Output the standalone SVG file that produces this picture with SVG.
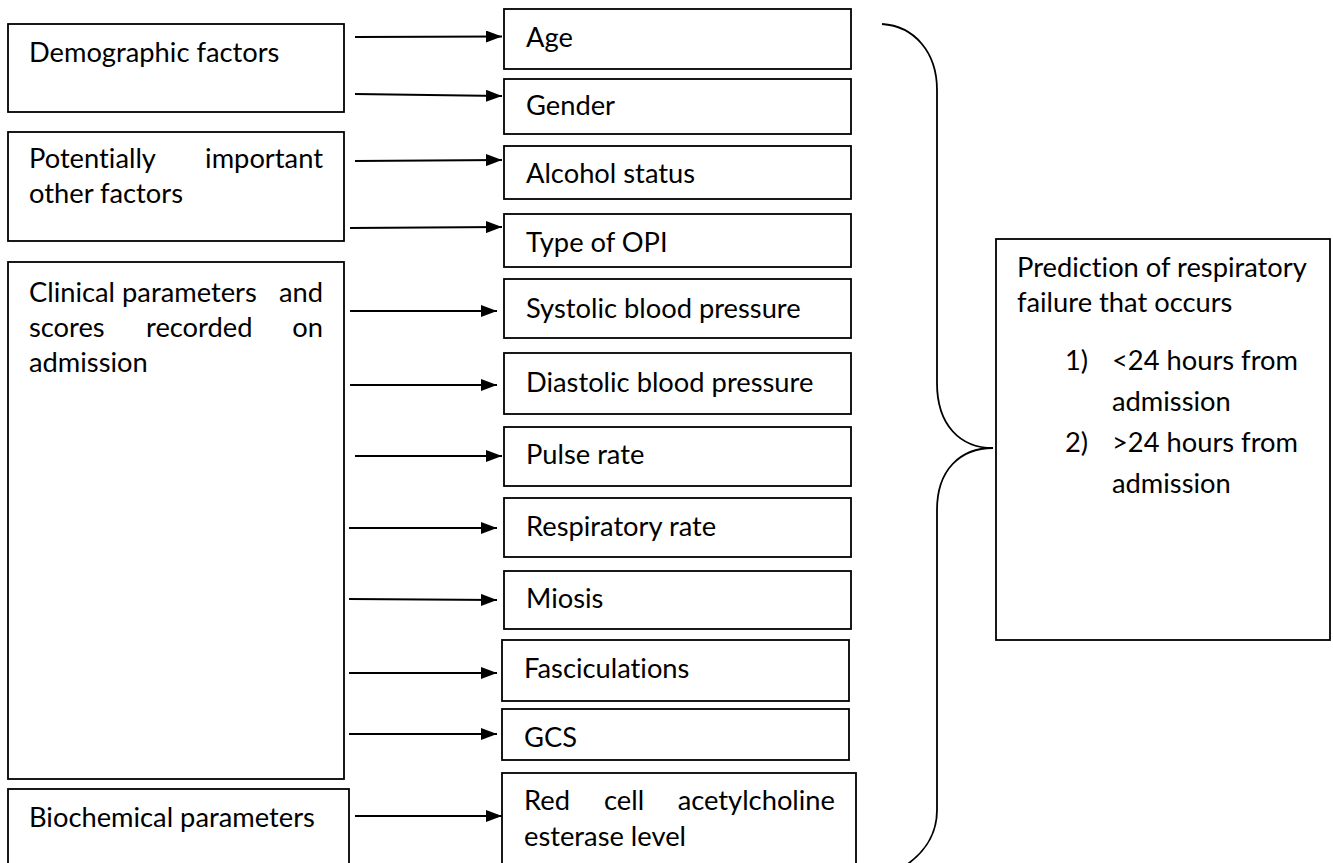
<svg xmlns="http://www.w3.org/2000/svg" width="1333" height="863" viewBox="0 0 1333 863">
<style>
.box{fill:#fff;stroke:#000;stroke-width:1.8}
.t{font-family:Lato,"Open Sans","Liberation Sans",sans-serif;font-size:27.3px;fill:#000;font-variant-ligatures:none;font-feature-settings:"liga" 0,"dlig" 0}
.c{stroke:#000;stroke-width:1.8;fill:none}
</style>
<defs>
<marker id="ah" markerUnits="userSpaceOnUse" markerWidth="16" markerHeight="12" refX="16" refY="6" orient="auto"><path d="M0,0 L16,6 L0,12 z" fill="#000"/></marker>
</defs>
<rect width="1333" height="863" fill="#fff"/>
<g id="demographic"><rect class="box" x="8" y="24" width="336" height="88"/><text class="t" x="29" y="62">Demographic factors</text></g>
<g id="potential"><rect class="box" x="8" y="132" width="336" height="109"/><text class="t" x="29" y="168">Potentially</text><text class="t" x="323" y="168" text-anchor="end">important</text><text class="t" x="29" y="203">other factors</text></g>
<g id="clinical"><rect class="box" x="8" y="262" width="336" height="517"/><text class="t" x="29" y="302">Clinical parameters</text><text class="t" x="323" y="302" text-anchor="end">and</text><text class="t" x="29" y="337">scores</text><text class="t" x="146" y="337">recorded</text><text class="t" x="323" y="337" text-anchor="end">on</text><text class="t" x="29" y="372">admission</text></g>
<g id="biochemical"><rect class="box" x="8" y="789" width="341" height="90"/><text class="t" x="29" y="827">Biochemical parameters</text></g>
<g id="age"><rect class="box" x="504" y="9" width="347" height="60"/><text class="t" x="526" y="47">Age</text></g>
<g id="gender"><rect class="box" x="504" y="79" width="347" height="55"/><text class="t" x="526" y="115">Gender</text></g>
<g id="alcohol"><rect class="box" x="504" y="146" width="347" height="53"/><text class="t" x="526" y="183">Alcohol status</text></g>
<g id="opi"><rect class="box" x="504" y="214" width="347" height="53"/><text class="t" x="526" y="252">Type of OPI</text></g>
<g id="systolic"><rect class="box" x="504" y="279" width="347" height="59"/><text class="t" x="526" y="318">Systolic blood pressure</text></g>
<g id="diastolic"><rect class="box" x="504" y="353" width="347" height="61"/><text class="t" x="526" y="392">Diastolic blood pressure</text></g>
<g id="pulse"><rect class="box" x="504" y="427" width="347" height="59"/><text class="t" x="526" y="464">Pulse rate</text></g>
<g id="respiratory"><rect class="box" x="504" y="498" width="347" height="59"/><text class="t" x="526" y="536">Respiratory rate</text></g>
<g id="miosis"><rect class="box" x="504" y="571" width="347" height="58"/><text class="t" x="526" y="608">Miosis</text></g>
<g id="fasciculations"><rect class="box" x="502" y="640" width="347" height="61"/><text class="t" x="524" y="678">Fasciculations</text></g>
<g id="gcs"><rect class="box" x="502" y="709" width="347" height="51"/><text class="t" x="524" y="747">GCS</text></g>
<g id="redcell"><rect class="box" x="502" y="773" width="354" height="110"/><text class="t" x="524" y="810">Red</text><text class="t" x="604" y="810">cell</text><text class="t" x="835" y="810" text-anchor="end">acetylcholine</text><text class="t" x="524" y="846">esterase level</text></g>
<g id="prediction"><rect class="box" x="996" y="239" width="334" height="401" stroke-width="2.2"/><text class="t" x="1017" y="277">Prediction of respiratory</text><text class="t" x="1017" y="312">failure that occurs</text><text class="t" x="1065" y="370">1)</text><text class="t" x="1112" y="370">&lt;24 hours from</text><text class="t" x="1112" y="411">admission</text><text class="t" x="1065" y="452">2)</text><text class="t" x="1112" y="452">&gt;24 hours from</text><text class="t" x="1112" y="493">admission</text></g>
<g id="connectors">
<path class="c" d="M355,37 L502,36.5" marker-end="url(#ah)"/>
<path class="c" d="M355,94 L502,96" marker-end="url(#ah)"/>
<path class="c" d="M355,161 L502,160" marker-end="url(#ah)"/>
<path class="c" d="M350,228 L502,227" marker-end="url(#ah)"/>
<path class="c" d="M350,311 L497,311" marker-end="url(#ah)"/>
<path class="c" d="M350,385 L497,385" marker-end="url(#ah)"/>
<path class="c" d="M355,456 L502,456" marker-end="url(#ah)"/>
<path class="c" d="M349,528 L497,528" marker-end="url(#ah)"/>
<path class="c" d="M349,599 L497,600" marker-end="url(#ah)"/>
<path class="c" d="M349,673 L497,673" marker-end="url(#ah)"/>
<path class="c" d="M349,734 L497,734" marker-end="url(#ah)"/>
<path class="c" d="M355,816 L502,816" marker-end="url(#ah)"/>
<path class="c" d="M882,24 C914,26 937,52 937,90 L937,383 C937,425 960,448 993,448 C960,448 937,470 937,510 L937,810 C937,835 925,852 905,866"/>
</g>
</svg>
